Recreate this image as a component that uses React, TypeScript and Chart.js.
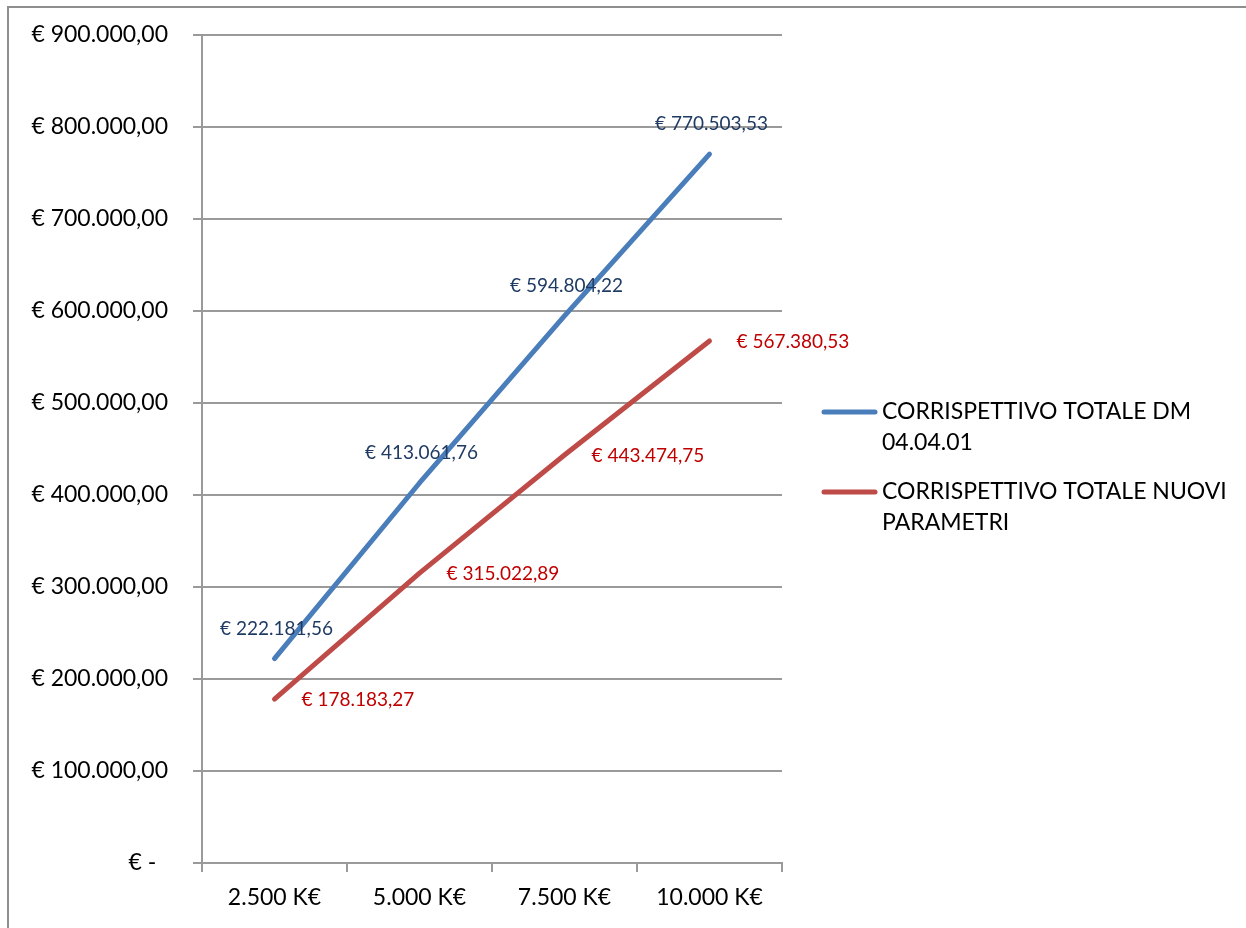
import React, { useEffect, useRef } from "react";
import { Chart, registerables } from "chart.js";

Chart.register(...registerables);

const categories = ["2.500 K€", "5.000 K€", "7.500 K€", "10.000 K€"];

const seriesDmName = ["CORRISPETTIVO TOTALE DM", "04.04.01"];
const seriesDmValues = [222181.56, 413061.76, 594804.22, 770503.53];

const seriesNuoviName = ["CORRISPETTIVO TOTALE NUOVI", "PARAMETRI"];
const seriesNuoviValues = [178183.27, 315022.89, 443474.75, 567380.53];

const yMin = 0;
const yMax = 900000;
const yStep = 100000;

const FONT = "Lato, 'Open Sans', sans-serif";
const GRID = "#9A9A9A";
const FRAME = "#8E8E8E";
const BLUE = "#4A7EBB";
const RED = "#BE4B48";

function formatEuro(v: number): string {
  if (v === 0) return "€ -  ";
  const fixed = v.toFixed(2);
  const [intPart, dec] = fixed.split(".");
  const grouped = intPart.replace(/\B(?=(\d{3})+(?!\d))/g, ".");
  return "€ " + grouped + "," + dec;
}

const dataLabelPlugin = {
  id: "dataLabels",
  afterDatasetsDraw(chart: any) {
    const ctx = chart.ctx;
    chart.data.datasets.forEach((ds: any, i: number) => {
      const meta = chart.getDatasetMeta(i);
      const st = ds.labelStyle;
      ctx.save();
      ctx.font = `19px ${FONT}`;
      ctx.fillStyle = st.color;
      ctx.textAlign = st.align;
      ctx.textBaseline = "middle";
      meta.data.forEach((pt: any, j: number) => {
        ctx.fillText(formatEuro(ds.data[j]), pt.x + st.dx, pt.y + st.dy);
      });
      ctx.restore();
    });
  },
};

const sideLegendPlugin = {
  id: "sideLegend",
  afterDraw(chart: any) {
    const ctx = chart.ctx;
    const area = chart.chartArea;
    const x0 = area.right + 42;
    let y = chart.height / 2 - 52;
    ctx.save();
    chart.data.datasets.forEach((ds: any) => {
      ctx.strokeStyle = ds.borderColor;
      ctx.lineWidth = 5;
      ctx.lineCap = "round";
      ctx.beginPath();
      ctx.moveTo(x0, y);
      ctx.lineTo(x0 + 51, y);
      ctx.stroke();
      ctx.font = `23px ${FONT}`;
      ctx.fillStyle = "#000000";
      ctx.textAlign = "left";
      ctx.textBaseline = "middle";
      (ds.legendLines as string[]).forEach((line, k) => {
        ctx.fillText(line, x0 + 58, y + k * 31);
      });
      y += 80;
    });
    ctx.restore();
  },
};

export default function App() {
  const canvasRef = useRef<HTMLCanvasElement | null>(null);

  useEffect(() => {
    document.documentElement.style.overflow = "hidden";
    const canvas = canvasRef.current;
    if (!canvas) return;
    const chart = new Chart(canvas, {
      type: "line",
      data: {
        labels: categories,
        datasets: [
          {
            label: seriesDmName.join(" "),
            data: seriesDmValues,
            borderColor: BLUE,
            backgroundColor: BLUE,
            borderWidth: 5,
            borderCapStyle: "round",
            borderJoinStyle: "round",
            pointRadius: 0,
            tension: 0,
            legendLines: seriesDmName,
            labelStyle: { color: "#1F3B64", align: "center", dx: 2, dy: -30 },
          } as any,
          {
            label: seriesNuoviName.join(" "),
            data: seriesNuoviValues,
            borderColor: RED,
            backgroundColor: RED,
            borderWidth: 5,
            borderCapStyle: "round",
            borderJoinStyle: "round",
            pointRadius: 0,
            tension: 0,
            legendLines: seriesNuoviName,
            labelStyle: { color: "#C00000", align: "left", dx: 27, dy: 1 },
          } as any,
        ],
      },
      options: {
        animation: false,
        responsive: true,
        maintainAspectRatio: false,
        layout: { padding: { top: 27, right: 464, left: 0, bottom: 0 } },
        plugins: {
          legend: { display: false },
          tooltip: { enabled: false },
        },
        scales: {
          x: {
            type: "category",
            offset: true,
            grid: {
              offset: true,
              drawOnChartArea: false,
              drawTicks: true,
              tickLength: 9,
              color: GRID,
              lineWidth: 2,
            },
            border: { display: true, color: GRID, width: 2 },
            ticks: {
              color: "#000000",
              font: { family: FONT, size: 23 },
              padding: 12,
              maxRotation: 0,
              autoSkip: false,
            },
            afterFit: (scale: any) => {
              scale.height = 57;
              scale.paddingLeft = 0;
              scale.paddingRight = 0;
            },
          },
          y: {
            min: yMin,
            max: yMax,
            grid: {
              color: GRID,
              lineWidth: 2,
              drawTicks: true,
              tickLength: 9,
            },
            border: { display: true, color: GRID, width: 2 },
            ticks: {
              stepSize: yStep,
              color: "#000000",
              font: { family: FONT, size: 23 },
              padding: 25,
              callback: (v: any) => formatEuro(Number(v)),
            },
            afterFit: (scale: any) => {
              scale.width = 193;
              scale.paddingTop = 0;
              scale.paddingBottom = 0;
            },
          },
        },
      },
      plugins: [dataLabelPlugin, sideLegendPlugin],
    });
    return () => chart.destroy();
  }, []);

  return (
    <div
      style={{
        position: "fixed",
        left: 7,
        top: 6,
        width: 1239,
        height: 930,
        background: "#ffffff",
      }}
    >
      <div
        style={{
          position: "absolute",
          left: 0,
          top: 0,
          width: 1239,
          height: 2,
          background: FRAME,
        }}
      />
      <div
        style={{
          position: "absolute",
          left: 0,
          top: 0,
          width: 2,
          height: 930,
          background: FRAME,
        }}
      />
      <div
        style={{
          position: "absolute",
          left: 2,
          top: 2,
          width: 1237,
          height: 912,
        }}
      >
        <canvas ref={canvasRef} />
      </div>
    </div>
  );
}
